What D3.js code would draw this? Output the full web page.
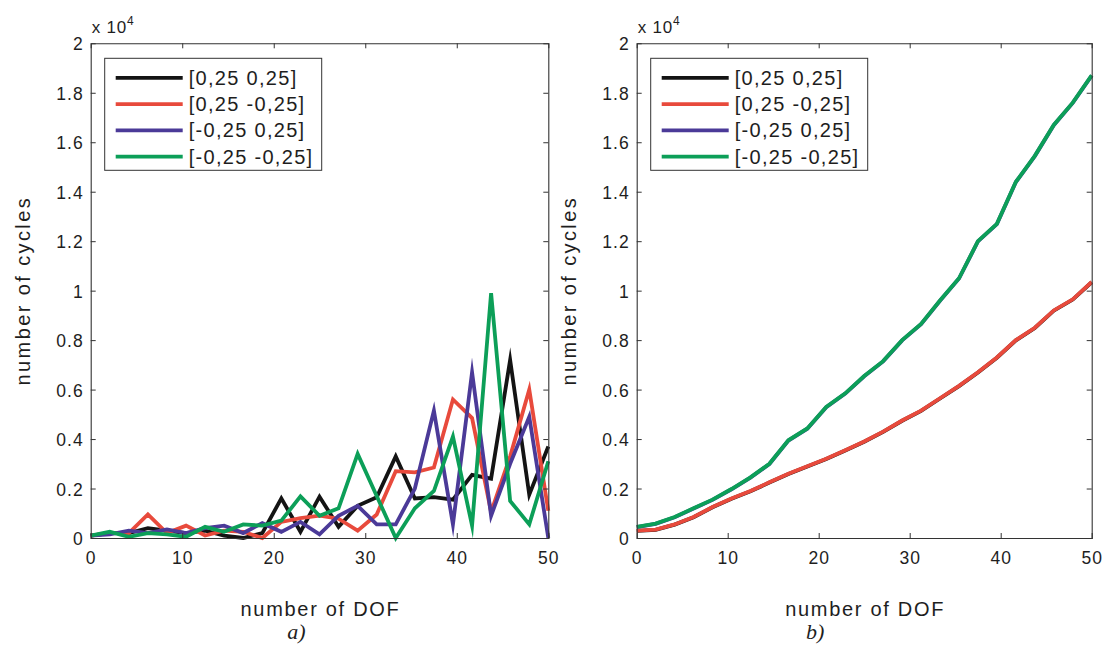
<!DOCTYPE html>
<html><head><meta charset="utf-8">
<script src="https://cdn.jsdelivr.net/npm/d3@7/dist/d3.min.js"></script>
<style>
html,body{margin:0;padding:0;background:#fff;}
svg text{font-family:"Liberation Sans",Arial,Helvetica,sans-serif;fill:#1e1e1e;}
</style></head>
<body>
<svg id="chart" width="1105" height="646"></svg>
<script>
// ---------- data ----------
const dof = [0, 2.08, 4.17, 6.25, 8.33, 10.42, 12.5, 14.58, 16.67, 18.75, 20.83, 22.92, 25,
             27.08, 29.17, 31.25, 33.33, 35.42, 37.5, 39.58, 41.67, 43.75, 45.83, 47.92, 50];
const seriesNames = ["[0,25 0,25]", "[0,25 -0,25]", "[-0,25 0,25]", "[-0,25 -0,25]"];
const seriesColors = ["#141414", "#e84a3c", "#4b3a98", "#0c9f58"];

// panel a) number of cycles
const aBlack  = [100,200,200,400,300,200,300,100,0,200,1600,250,1670,450,1300,1650,3300,1600,1650,1550,2550,2400,7200,1750,3700];
const aRed    = [100,200,200,950,200,500,100,300,250,0,650,800,900,780,300,950,2700,2650,2850,5600,4850,1050,3300,6000,1100];
const aPurple = [100,150,300,200,350,200,400,500,200,600,250,650,150,900,1300,550,550,2000,5150,550,6700,900,3000,4900,0];
const aGreen  = [100,250,50,200,150,50,450,250,550,500,700,1680,900,1200,3400,1700,0,1200,1900,4100,500,9900,1500,550,3100];

// panel b) number of cycles
const bBlack  = [290,330,540,840,1240,1590,1890,2240,2590,2890,3190,3540,3890,4290,4740,5140,5640,6140,6690,7290,7990,8490,9190,9640,10340];
const bRed    = [300,340,550,850,1250,1600,1900,2250,2600,2900,3200,3550,3900,4300,4750,5150,5650,6150,6700,7300,8000,8500,9200,9650,10350];
const bPurple = [440,570,840,1190,1540,1970,2440,2990,3940,4420,5290,5840,6540,7140,7990,8640,9590,10490,11990,12690,14390,15440,16690,17590,18690];
const bGreen  = [450,580,850,1200,1550,1980,2450,3000,3950,4430,5300,5850,6550,7150,8000,8650,9600,10500,12000,12700,14400,15450,16700,17600,18700];

const xTicks = [0, 10, 20, 30, 40, 50];
const yTicks = [0, 2000, 4000, 6000, 8000, 10000, 12000, 14000, 16000, 18000, 20000];
const xTitle = "number of DOF";
const yTitle = "number of cycles";
const captions = ["a)", "b)"];

const panelsData = [
  [aBlack, aRed, aPurple, aGreen],
  [bBlack, bRed, bPurple, bGreen]
];

// ---------- layout ----------
const layout = [
  {x0: 90.7, x1: 548.3, capDx: -23},
  {x0: 636.7, x1: 1091.7, capDx: -49}
];
const yTop = 43.3, yBot = 538;

const svg = d3.select("#chart");
svg.append("rect").attr("width",1105).attr("height",646).attr("fill","#fff");

const fmtY = v => d3.format("~g")(v/10000);

panelsData.forEach((series, p) => {
  const L = layout[p];
  const x = d3.scaleLinear().domain([0,50]).range([L.x0, L.x1]);
  const y = d3.scaleLinear().domain([0,20000]).range([yBot, yTop]);
  const g = svg.append("g");

  // lines
  const line = d3.line().x((d,i)=>x(dof[i])).y(d=>y(d));
  series.forEach((s, k) => {
    g.append("path").datum(s).attr("d", line)
      .attr("fill","none").attr("stroke", seriesColors[k])
      .attr("stroke-width", 3.8).attr("stroke-linejoin","miter").attr("stroke-miterlimit", 10);
  });

  // box axes with inward ticks
  const tl = 5;
  const axB = g.append("g").attr("transform",`translate(0,${yBot})`)
    .call(d3.axisBottom(x).tickValues(xTicks).tickSize(-tl).tickPadding(14).tickFormat(d3.format("d")));
  const axT = g.append("g").attr("transform",`translate(0,${yTop})`)
    .call(d3.axisTop(x).tickValues(xTicks).tickSize(-tl).tickFormat(""));
  const axL = g.append("g").attr("transform",`translate(${L.x0},0)`)
    .call(d3.axisLeft(y).tickValues(yTicks).tickSize(-tl).tickPadding(7).tickFormat(fmtY));
  const axR = g.append("g").attr("transform",`translate(${L.x1},0)`)
    .call(d3.axisRight(y).tickValues(yTicks).tickSize(-tl).tickFormat(""));
  [axB, axT, axL, axR].forEach(a => {
    a.select(".domain").attr("stroke","#333").attr("stroke-width",1.1);
    a.selectAll(".tick line").attr("stroke","#333").attr("stroke-width",1);
    a.selectAll(".tick text").attr("fill","#1e1e1e")
      .style("font-family",'"Liberation Sans",Arial,sans-serif')
      .style("font-size","17.5px").style("letter-spacing","1px");
  });
  [axT, axR, axB, axL].forEach(a => a.selectAll(".tick line").filter(d => d===0 || d===50 || d===20000).remove());
  axB.selectAll(".tick text").attr("dy","0.71em");
  axL.selectAll(".tick text").attr("dy","0.38em");

  // scale multiplier
  const m = g.append("text").attr("x", L.x0 + 1).attr("y", 33)
    .style("font-size","17px").style("letter-spacing","0.8px");
  m.append("tspan").text("x 10");
  m.append("tspan").attr("dy", -8).style("font-size","12px").text("4");

  // titles
  g.append("text").attr("x", (L.x0+L.x1)/2 + 1).attr("y", 616)
    .attr("text-anchor","middle").style("font-size","20px").style("letter-spacing","1.7px").text(xTitle);
  g.append("text").attr("transform",`translate(${L.x0 - 61},${(yTop+yBot)/2}) rotate(-90)`)
    .attr("text-anchor","middle").style("font-size","20px").style("letter-spacing","2.4px").text(yTitle);
  g.append("text").attr("x", (L.x0+L.x1)/2 + L.capDx).attr("y", 639)
    .attr("text-anchor","middle")
    .style("font-family",'"Liberation Serif","Times New Roman",serif')
    .style("font-style","italic").style("font-size","22px").text(captions[p]);

  // legend
  const lx = L.x0 + 14, ly = 58.3, lw = 217, lh = 112;
  const lg = g.append("g");
  lg.append("rect").attr("x", lx).attr("y", ly).attr("width", lw).attr("height", lh)
    .attr("fill","#fff").attr("stroke","#333").attr("stroke-width",1);
  seriesNames.forEach((nm, k) => {
    const cy = ly + 19.5 + k*26.3;
    lg.append("line").attr("x1", lx+11).attr("x2", lx+78).attr("y1", cy).attr("y2", cy)
      .attr("stroke", seriesColors[k]).attr("stroke-width", 3.8);
    lg.append("text").attr("x", lx+84).attr("y", cy+7)
      .style("font-size","20px").style("letter-spacing","1.3px").text(nm);
  });
});
</script>
</body></html>
